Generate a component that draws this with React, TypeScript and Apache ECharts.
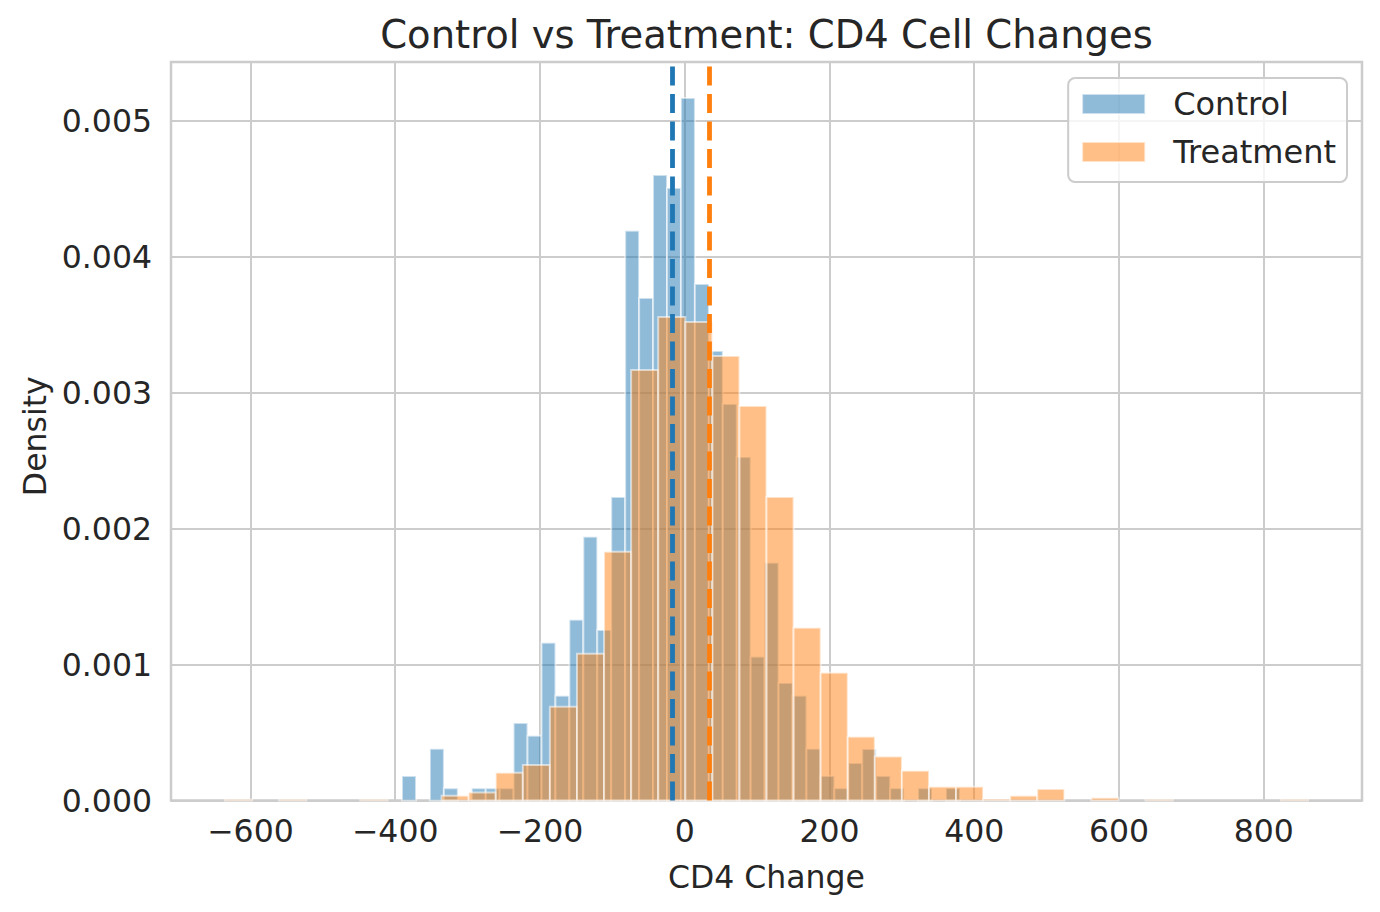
import React, { useEffect, useRef } from "react";
import * as echarts from "echarts";

// Histogram bins (density)
const controlBinStart = -390.6;
const controlBinWidth = 19.27;
const controlDensity = [
  0.00018, 0, 0.00038, 0.00009, 0, 0.00009, 0.00009, 0.00009, 0.00057, 0.000476,
  0.00116, 0.00077, 0.00133, 0.00194, 0.001255, 0.002233, 0.00419, 0.003696, 0.0046, 0.004505,
  0.005167, 0.0038, 0.003307, 0.002917, 0.002527, 0.001057, 0.001748, 0.000865, 0.00077, 0.00038,
  0.00018, 0.00009, 0.000275, 0.000378, 0.00018, 0.00009, 0, 0.00009, 0, 0.00009,
];

const treatmentBinStart = -635.2;
const treatmentBinWidth = 37.41;
const treatmentDensity = [
  0.000007, 0, 0.000007, 0, 0, 0.000007, 0, 0, 0.000035, 0.000059,
  0.000204, 0.000262, 0.000689, 0.001079, 0.001829, 0.003167, 0.003557, 0.00352, 0.00327, 0.002902,
  0.002233, 0.00127, 0.000939, 0.000468, 0.000324, 0.000218, 0.000101, 0.000101, 0.00001, 0.000035,
  0.000084, 0, 0.00002, 0, 0.000007, 0, 0, 0, 0, 0.000007,
];

const controlMean = -17.1;
const treatmentMean = 34.0;

const xTickValues = [-600, -400, -200, 0, 200, 400, 600, 800];
const yTickValues = [0, 0.001, 0.002, 0.003, 0.004, 0.005];
const xRange = [-709.8, 935.8];
const yRange = [0, 0.005432];

const seriesNames = ["Control", "Treatment"];
const fillColors = ["rgba(31,119,180,0.5)", "rgba(255,127,14,0.5)"];
const lineColors = ["#1f77b4", "#ff7f0e"];

const FONT = "DejaVu Sans";
const TEXT = "#262626";
const GRID = "#cccccc";

function binsToData(start: number, width: number, dens: number[]) {
  return dens.map((d, i) => [start + i * width, start + (i + 1) * width, d]);
}

function fmtX(v: number) {
  return v < 0 ? "\u2212" + Math.abs(v) : String(v);
}

export default function App() {
  const ref = useRef<HTMLDivElement>(null);
  useEffect(() => {
    if (!ref.current) return;
    const chart = echarts.init(ref.current, null, { renderer: "svg" });

    const makeHist = (idx: number, data: number[][], mean: number) => ({
      name: seriesNames[idx],
      type: "custom",
      data,
      encode: { x: [0, 1], y: 2 },
      itemStyle: { color: fillColors[idx] },
      z: 2 + idx,
      renderItem: (params: any, api: any) => {
        const h = api.value(2);
        if (!h) return null;
        const a = api.coord([api.value(0), h]);
        const b = api.coord([api.value(1), 0]);
        return {
          type: "rect",
          shape: { x: a[0], y: a[1], width: b[0] - a[0], height: b[1] - a[1] },
          style: { fill: fillColors[idx], stroke: "rgba(255,255,255,0.55)", lineWidth: 2 },
        };
      },
      markLine: {
        silent: true,
        symbol: ["none", "none"],
        label: { show: false },
        emphasis: { disabled: true },
        z: 10,
        lineStyle: { color: lineColors[idx], width: 4.8, type: [19, 8.5], opacity: 1 },
        data: [{ xAxis: mean }],
      },
    });

    chart.setOption({
      animation: false,
      backgroundColor: "#ffffff",
      textStyle: { fontFamily: FONT, color: TEXT },
      title: {
        text: "Control vs Treatment: CD4 Cell Changes",
        left: 766.5,
        top: 15,
        textAlign: "center",
        padding: 0,
        textStyle: { fontFamily: FONT, fontSize: 38.5, fontWeight: "normal", color: TEXT },
      },
      legend: {
        orient: "vertical",
        right: 33,
        top: 78,
        padding: [10, 11, 14, 13],
        itemGap: 16,
        itemWidth: 63,
        itemHeight: 20,
        backgroundColor: "rgba(255,255,255,0.8)",
        borderColor: GRID,
        borderWidth: 2,
        borderRadius: 7,
        selectedMode: false,
        textStyle: { fontFamily: FONT, fontSize: 32, color: TEXT, padding: [0, 0, 0, 23], lineHeight: 31 },
        data: seriesNames.map((n, i) => ({
          name: n,
          icon: "rect",
          itemStyle: { color: fillColors[i], borderColor: "rgba(255,255,255,0.55)", borderWidth: 2 },
        })),
      },
      grid: {
        left: 171,
        right: 18,
        top: 62,
        bottom: 111.5,
        containLabel: false,
        outerBoundsMode: "none",
        show: true,
        borderColor: GRID,
        borderWidth: 2.5,
        backgroundColor: "transparent",
      },
      xAxis: {
        type: "value",
        min: xRange[0],
        max: xRange[1],
        minInterval: 200,
        maxInterval: 200,
        name: "CD4 Change",
        nameLocation: "middle",
        nameGap: 60,
        nameTextStyle: { fontFamily: FONT, fontSize: 31.5, color: TEXT },
        axisLine: { show: false },
        axisTick: { show: false },
        axisLabel: {
          customValues: xTickValues,
          showMinLabel: true,
          showMaxLabel: true,
          hideOverlap: false,
          margin: 14,
          fontFamily: FONT,
          fontSize: 31.5,
          color: TEXT,
          formatter: (v: number) => fmtX(v),
        },
        splitLine: { show: true, lineStyle: { color: GRID, width: 2 } },
      },
      yAxis: {
        type: "value",
        min: yRange[0],
        max: yRange[1],
        minInterval: 0.001,
        maxInterval: 0.001,
        name: "Density",
        nameLocation: "middle",
        nameGap: 118,
        nameTextStyle: { fontFamily: FONT, fontSize: 31.5, color: TEXT, padding: [0, 10, 0, 0] },
        axisLine: { show: false },
        axisTick: { show: false },
        axisLabel: {
          customValues: yTickValues,
          showMinLabel: true,
          showMaxLabel: true,
          margin: 19,
          fontFamily: FONT,
          fontSize: 31.5,
          color: TEXT,
          formatter: (v: number) => v.toFixed(3),
        },
        splitLine: { show: true, lineStyle: { color: GRID, width: 2 } },
      },
      series: [
        makeHist(0, binsToData(controlBinStart, controlBinWidth, controlDensity), controlMean),
        makeHist(1, binsToData(treatmentBinStart, treatmentBinWidth, treatmentDensity), treatmentMean),
      ],
    });
    return () => chart.dispose();
  }, []);

  return <div ref={ref} style={{ width: 1380, height: 912, position: "absolute", left: 0, top: 0 }} />;
}
